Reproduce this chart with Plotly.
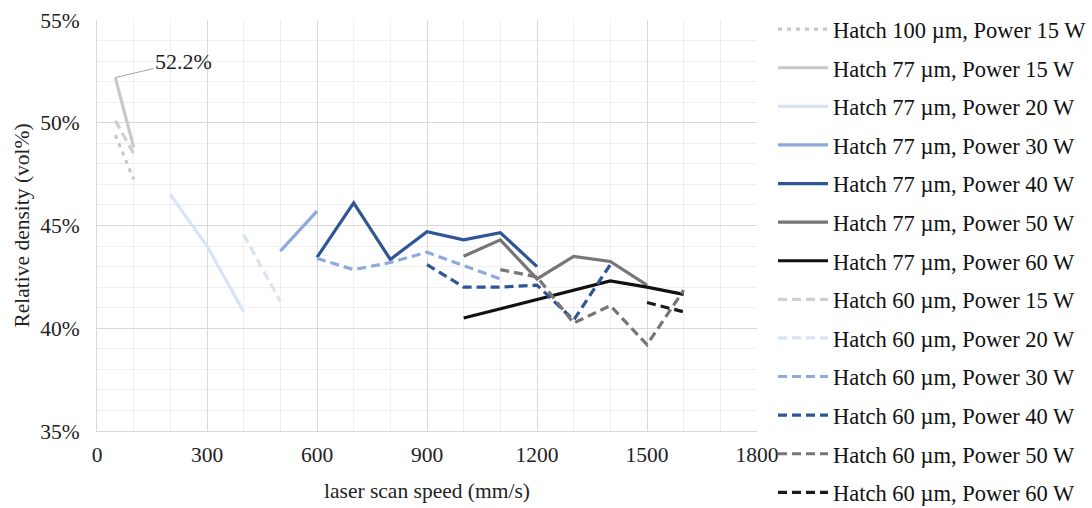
import plotly.graph_objects as go

# ---- data (laser scan speed in mm/s, relative density in vol%) ----
h100_p15_x = [50, 100]
h100_p15_y = [49.4, 47.25]

h77_p15_x = [50, 100]
h77_p15_y = [52.2, 48.8]

h77_p20_x = [200, 300, 400]
h77_p20_y = [46.5, 44.0, 40.8]

h77_p30_x = [500, 600]
h77_p30_y = [43.75, 45.7]

h77_p40_x = [600, 700, 800, 900, 1000, 1100, 1200]
h77_p40_y = [43.45, 46.1, 43.35, 44.7, 44.3, 44.65, 43.0]

h77_p50_x = [1000, 1100, 1200, 1300, 1400, 1500]
h77_p50_y = [43.5, 44.3, 42.4, 43.5, 43.25, 42.1]

h77_p60_x = [1000, 1100, 1200, 1300, 1400, 1500, 1600]
h77_p60_y = [40.5, 40.95, 41.4, 41.85, 42.3, 42.0, 41.65]

h60_p15_x = [50, 100]
h60_p15_y = [50.1, 48.5]

h60_p20_x = [400, 500]
h60_p20_y = [44.55, 41.3]

h60_p30_x = [600, 700, 800, 900, 1000, 1100]
h60_p30_y = [43.4, 42.85, 43.2, 43.7, 43.05, 42.4]

h60_p40_x = [900, 1000, 1100, 1200, 1300, 1400]
h60_p40_y = [43.1, 42.0, 42.0, 42.1, 40.4, 43.1]

h60_p50_x = [1100, 1200, 1300, 1400, 1500, 1600]
h60_p50_y = [42.85, 42.5, 40.25, 41.1, 39.2, 41.85]

h60_p60_x = [1500, 1600]
h60_p60_y = [41.25, 40.8]

series = [
    ("Hatch 100 µm, Power 15 W", h100_p15_x, h100_p15_y, "#c9c9c9", "dot"),
    ("Hatch 77 µm, Power 15 W", h77_p15_x, h77_p15_y, "#c8c8c8", "solid"),
    ("Hatch 77 µm, Power 20 W", h77_p20_x, h77_p20_y, "#dae3f3", "solid"),
    ("Hatch 77 µm, Power 30 W", h77_p30_x, h77_p30_y, "#8faadc", "solid"),
    ("Hatch 77 µm, Power 40 W", h77_p40_x, h77_p40_y, "#2f5597", "solid"),
    ("Hatch 77 µm, Power 50 W", h77_p50_x, h77_p50_y, "#767676", "solid"),
    ("Hatch 77 µm, Power 60 W", h77_p60_x, h77_p60_y, "#111111", "solid"),
    ("Hatch 60 µm, Power 15 W", h60_p15_x, h60_p15_y, "#d0d0d0", "dash"),
    ("Hatch 60 µm, Power 20 W", h60_p20_x, h60_p20_y, "#dae3f3", "dash"),
    ("Hatch 60 µm, Power 30 W", h60_p30_x, h60_p30_y, "#8faadc", "dash"),
    ("Hatch 60 µm, Power 40 W", h60_p40_x, h60_p40_y, "#2f5597", "dash"),
    ("Hatch 60 µm, Power 50 W", h60_p50_x, h60_p50_y, "#767676", "dash"),
    ("Hatch 60 µm, Power 60 W", h60_p60_x, h60_p60_y, "#1a1a1a", "dash"),
]

FONT = "Liberation Serif"

fig = go.Figure()
for i, (name, xs, ys, color, dash) in enumerate(series):
    dash_style = {"dot": "4px,5px", "dash": "9px,5px"}.get(dash, "solid")
    fig.add_trace(go.Scatter(
        x=xs, y=ys, name=name, mode="lines",
        legendgroup=f"g{i}",
        line=dict(color=color, width=3.2, dash=dash_style),
    ))

fig.add_annotation(
    x=h77_p15_x[0], y=h77_p15_y[0], text=f"{h77_p15_y[0]:.1f}%",
    showarrow=True, arrowhead=0, arrowwidth=1, arrowcolor="#a6a6a6",
    ax=68, ay=-16, font=dict(family=FONT, size=22, color="#222222"),
)

fig.update_layout(
    width=1092, height=508,
    margin=dict(l=97, r=335, t=20, b=77, autoexpand=False),
    paper_bgcolor="white", plot_bgcolor="white",
    font=dict(family=FONT, size=21, color="#222222"),
    showlegend=True,
    legend=dict(
        xref="container", yref="container",
        x=773 / 1092, y=1 - 8 / 508, xanchor="left", yanchor="top",
        font=dict(family=FONT, size=22.5, color="#111111"),
        tracegroupgap=6.35, itemwidth=50, maxheight=1.0,
        bgcolor="rgba(0,0,0,0)",
    ),
    xaxis=dict(
        range=[0, 1800], dtick=300, tick0=0,
        showgrid=True, gridcolor="#d9d9d9", gridwidth=1.3,
        minor=dict(dtick=100, showgrid=True, gridcolor="#efefef", gridwidth=1),
        showline=True, linecolor="#d9d9d9", linewidth=1.3, mirror=False,
        zeroline=False, ticks="", ticklabelstandoff=4,
        title=dict(text="laser scan speed (mm/s)", standoff=16,
                   font=dict(family=FONT, size=21.5)),
        tickfont=dict(family=FONT, size=21.5, color="#222222"),
    ),
    yaxis=dict(
        range=[35, 55], dtick=5, tick0=35, ticksuffix="%",
        showgrid=True, gridcolor="#d9d9d9", gridwidth=1.3,
        minor=dict(dtick=1, showgrid=True, gridcolor="#efefef", gridwidth=1),
        showline=True, linecolor="#d9d9d9", linewidth=1.3,
        zeroline=False, ticks="", ticklabelstandoff=12,
        title=dict(text="Relative density (vol%)", standoff=4,
                   font=dict(family=FONT, size=21.5)),
        tickfont=dict(family=FONT, size=21.5, color="#222222"),
    ),
)

fig.write_html("out.html")
